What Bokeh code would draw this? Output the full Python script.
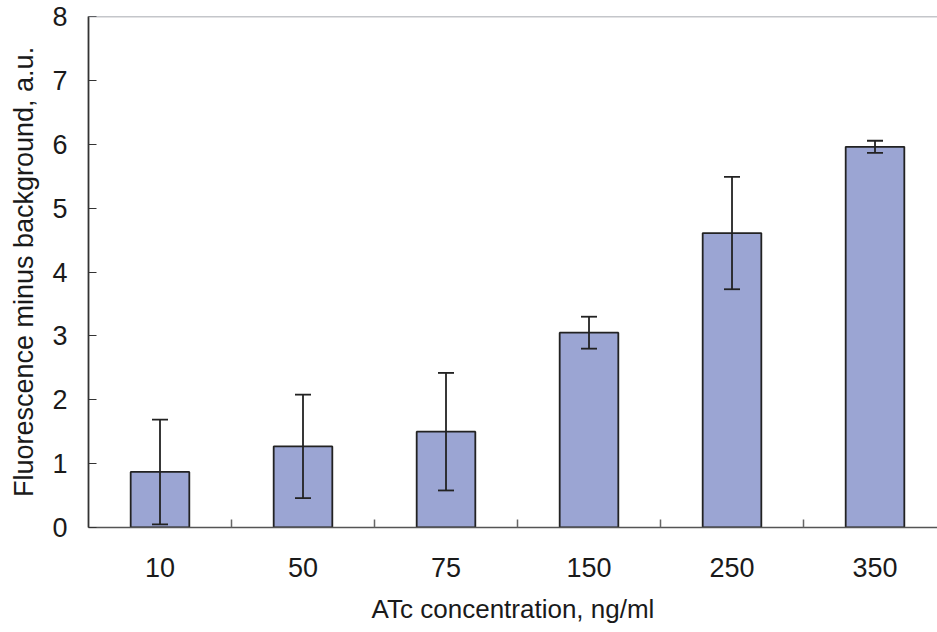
from bokeh.plotting import figure
from bokeh.models import (Range1d, FixedTicker, ColumnDataSource, Whisker, TeeHead, Span)
from bokeh.embed import file_html
from bokeh.resources import INLINE

categories = ["10", "50", "75", "150", "250", "350"]
means = [0.87, 1.27, 1.50, 3.05, 4.61, 5.96]
errors = [0.82, 0.81, 0.92, 0.25, 0.88, 0.095]
y_ticks = [0, 1, 2, 3, 4, 5, 6, 7, 8]

xs = [i + 0.5 for i in range(len(categories))]
src = ColumnDataSource(dict(
    x=xs, top=means,
    lower=[m - e for m, e in zip(means, errors)],
    upper=[m + e for m, e in zip(means, errors)],
))

FONT = "Liberation Sans"
p = figure(width=937, height=632, output_backend="svg", toolbar_location=None,
           x_range=Range1d(0, 5.937), y_range=Range1d(0, 8),
           min_border_left=88, min_border_right=0, min_border_top=16, min_border_bottom=105)
p.outline_line_color = None
p.xgrid.visible = False
p.ygrid.visible = False
p.background_fill_color = "white"
p.border_fill_color = "white"

p.vbar(x="x", top="top", bottom=0, width=0.41, source=src,
       fill_color="#9BA5D3", line_color="#222222", line_width=1.8)

w = Whisker(base="x", lower="lower", upper="upper", source=src, level="overlay",
            line_color="#222222", line_width=1.8,
            upper_head=TeeHead(size=16, line_color="#222222", line_width=1.8),
            lower_head=TeeHead(size=16, line_color="#222222", line_width=1.8))
p.add_layout(w)

p.add_layout(Span(location=8, dimension="width", line_color="#8a8d95", line_width=1.5))

# x axis
xa = p.xaxis[0]
xa.ticker = FixedTicker(ticks=xs, minor_ticks=[1, 2, 3, 4, 5])
xa.major_label_overrides = {x: c for x, c in zip(xs, categories)}
xa.major_tick_in = 0
xa.major_tick_out = 0
xa.minor_tick_in = 8
xa.minor_tick_out = 0
xa.minor_tick_line_color = "#666666"
xa.minor_tick_line_width = 1.5
xa.axis_line_color = "#555555"
xa.axis_line_width = 1.5
xa.major_label_standoff = 30
xa.major_label_text_font = FONT
xa.major_label_text_font_size = "27px"
xa.major_label_text_color = "#1a1a1a"
xa.axis_label = "ATc concentration, ng/ml"
xa.axis_label_text_font = FONT
xa.axis_label_text_font_size = "26px"
xa.axis_label_text_font_style = "normal"
xa.axis_label_text_color = "#1a1a1a"
xa.axis_label_standoff = 14

ya = p.yaxis[0]
ya.ticker = FixedTicker(ticks=y_ticks)
ya.minor_tick_line_color = None
ya.major_tick_in = 8
ya.major_tick_out = 0
ya.major_tick_line_color = "#333333"
ya.major_tick_line_width = 1.2
ya.axis_line_color = "#333333"
ya.axis_line_width = 1.8
ya.major_label_standoff = 21
ya.major_label_text_font = FONT
ya.major_label_text_font_size = "27px"
ya.major_label_text_color = "#1a1a1a"
ya.axis_label = "Fluorescence minus background, a.u."
ya.axis_label_text_font = FONT
ya.axis_label_text_font_size = "27px"
ya.axis_label_text_font_style = "normal"
ya.axis_label_text_color = "#1a1a1a"
ya.axis_label_standoff = 10

open("out.html", "w").write(file_html(p, INLINE))
